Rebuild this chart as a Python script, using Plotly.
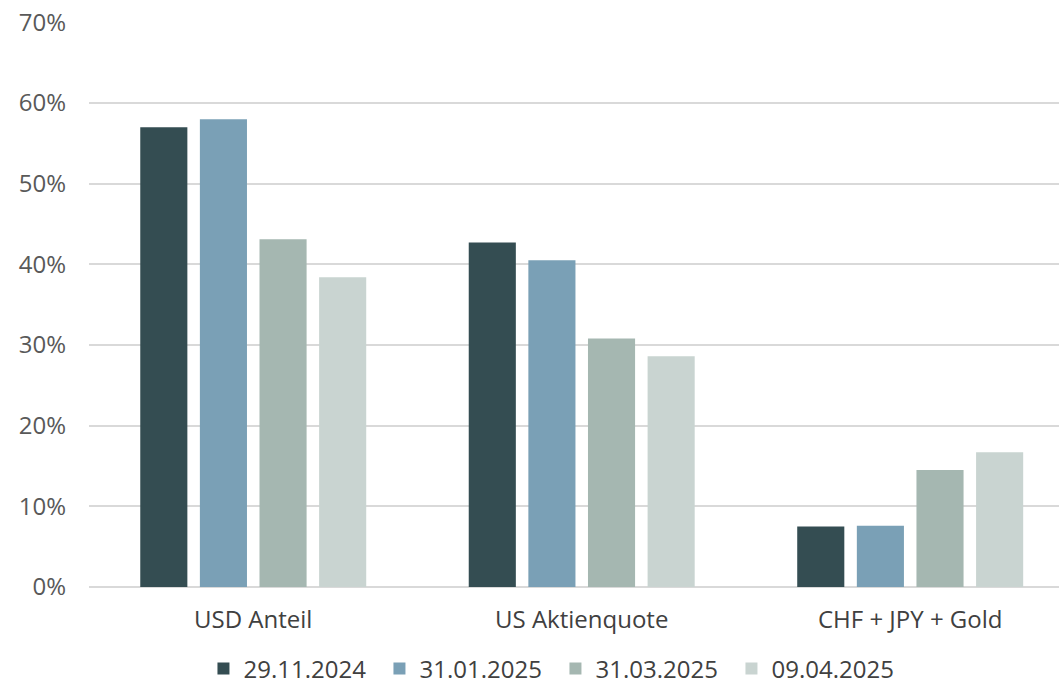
import plotly.graph_objects as go

categories = ["USD Anteil", "US Aktienquote", "CHF + JPY + Gold"]
dates = ["29.11.2024", "31.01.2025", "31.03.2025", "09.04.2025"]
values_2024_11_29 = [0.57, 0.427, 0.075]
values_2025_01_31 = [0.58, 0.405, 0.076]
values_2025_03_31 = [0.431, 0.308, 0.145]
values_2025_04_09 = [0.384, 0.286, 0.167]
colors = ["#344d52", "#7aa0b6", "#a5b7b1", "#c9d4d1"]
y_ticks = [0, 0.1, 0.2, 0.3, 0.4, 0.5, 0.6, 0.7]

series = [values_2024_11_29, values_2025_01_31, values_2025_03_31, values_2025_04_09]

fig = go.Figure()
for name, vals, col in zip(dates, series, colors):
    fig.add_trace(go.Bar(
        x=categories, y=vals, name=name,
        marker=dict(color=col, line=dict(width=0)),
    ))

font_family = "Open Sans"
fig.update_layout(
    width=1059, height=688,
    margin=dict(l=89, r=0, t=22, b=101, autoexpand=False),
    paper_bgcolor="white", plot_bgcolor="white",
    barmode="group", bargap=0.274, bargroupgap=0.21,
    font=dict(family=font_family, size=24, color="#595959"),
    showlegend=True,
    legend=dict(
        orientation="h", x=0.118, xanchor="left", y=-0.145, yanchor="middle",
        font=dict(family=font_family, size=24, color="#404040"),
        entrywidth=131, traceorder="normal", borderwidth=0,
    ),
    xaxis=dict(
        range=[-0.5, 2.453], showgrid=False, showline=False, ticks="",
        ticklabelstandoff=16, tickfont=dict(size=24, color="#404040"),
    ),
    yaxis=dict(
        range=[0, 0.7005], tickvals=y_ticks, tickformat=".0%",
        showgrid=True, gridcolor="#d9d9d9", gridwidth=1.5,
        zeroline=True, zerolinecolor="#d9d9d9", zerolinewidth=1.5,
        showline=False, ticks="", ticklabelstandoff=22,
        tickfont=dict(size=24, color="#595959"),
    ),
)

fig.write_html("out.html")
